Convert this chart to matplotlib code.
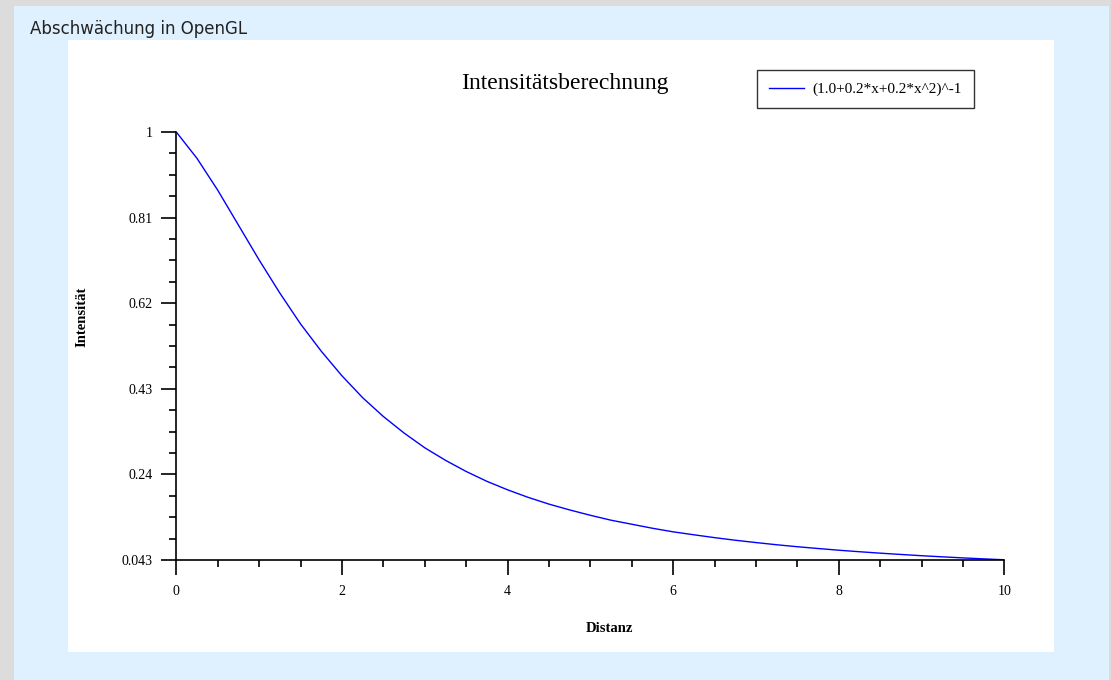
import matplotlib
matplotlib.use("Agg")
import matplotlib.pyplot as plt
from matplotlib.patches import Rectangle
from matplotlib.ticker import FixedLocator

# Data
distanz = [0, 0.25, 0.5, 0.75, 1, 1.25, 1.5, 1.75, 2, 2.25, 2.5, 2.75, 3, 3.25, 3.5, 3.75,
           4, 4.25, 4.5, 4.75, 5, 5.25, 5.5, 5.75, 6, 6.25, 6.5, 6.75, 7, 7.25, 7.5, 7.75,
           8, 8.25, 8.5, 8.75, 9, 9.25, 9.5, 9.75, 10]
intensitaet = [1.000, 0.941, 0.870, 0.792, 0.714, 0.640, 0.571, 0.510, 0.455, 0.406, 0.364,
               0.327, 0.294, 0.266, 0.241, 0.219, 0.200, 0.183, 0.168, 0.155, 0.143, 0.132,
               0.123, 0.114, 0.106, 0.0994, 0.0930, 0.0872, 0.0820, 0.0771, 0.0727, 0.0687,
               0.0649, 0.0615, 0.0583, 0.0554, 0.0526, 0.0501, 0.0477, 0.0455, 0.0435]
y_ticks = [0.043, 0.2344, 0.4258, 0.6172, 0.8086, 1.0]
y_tick_labels = ["0.043", "0.24", "0.43", "0.62", "0.81", "1"]
x_ticks = [0, 2, 4, 6, 8, 10]
x_tick_labels = ["0", "2", "4", "6", "8", "10"]
series_label = "(1.0+0.2*x+0.2*x^2)^-1"

W, H = 1111, 680
fig = plt.figure(figsize=(W / 100, H / 100), dpi=100, facecolor="#dcdcdc")

# light blue panel and white plot area
fig.patches.append(Rectangle((14 / W, 0), (1109 - 14) / W, (680 - 6) / H,
                             transform=fig.transFigure, facecolor="#dff0fe",
                             edgecolor="none", zorder=-2))
fig.patches.append(Rectangle((68 / W, (H - 652) / H), (1054 - 68) / W, (652 - 40) / H,
                             transform=fig.transFigure, facecolor="white",
                             edgecolor="none", zorder=-1))

fig.text(30 / W, 1 - 29 / H, "Abschwächung in OpenGL", family="DejaVu Sans",
         fontsize=12, color="#222222", va="center", ha="left")

left, right, top, bottom = 176.3, 1004.3, 132, 560
ax = fig.add_axes([left / W, (H - bottom) / H, (right - left) / W, (bottom - top) / H])
ax.patch.set_alpha(0)

ax.plot(distanz, intensitaet, color="#0000ff", lw=1.0, label=series_label)

ax.set_xlim(0, 10)
ax.set_ylim(0.043, 1.0)

for s in ["top", "right"]:
    ax.spines[s].set_visible(False)
for s in ["left", "bottom"]:
    ax.spines[s].set_linewidth(1.2)
    ax.spines[s].set_color("black")

ax.set_xticks(x_ticks)
ax.set_xticklabels(x_tick_labels)
ax.set_yticks(y_ticks)
ax.set_yticklabels(y_tick_labels)
ax.xaxis.set_minor_locator(FixedLocator([v * 0.5 for v in range(21)]))
step = (1.0 - 0.043) / 20
ax.yaxis.set_minor_locator(FixedLocator([0.043 + step * i for i in range(21)]))

ax.tick_params(axis="both", which="major", direction="out", length=11, width=1.2,
               labelsize=10, color="black")
ax.tick_params(axis="both", which="minor", direction="out", length=5, width=1.2,
               color="black")
ax.tick_params(axis="x", which="major", pad=7)
ax.tick_params(axis="y", which="major", pad=6)
for lab in ax.get_xticklabels() + ax.get_yticklabels():
    lab.set_family("Liberation Serif")

fig.text(565 / W, 1 - 83 / H, "Intensitätsberechnung", family="Liberation Serif",
         fontsize=17, ha="center", va="center")
fig.text(609 / W, 1 - 628 / H, "Distanz", family="Liberation Serif",
         fontsize=10.5, fontweight="bold", ha="center", va="center")
fig.text(82 / W, 1 - 317 / H, "Intensität", family="Liberation Serif",
         fontsize=10.5, fontweight="bold", ha="center", va="center", rotation=90)

leg = ax.legend(loc="upper left", bbox_to_anchor=(757 / W, 1 - 70 / H),
                bbox_transform=fig.transFigure, frameon=True, fancybox=False,
                prop={"family": "Liberation Serif", "size": 11},
                handlelength=2.3, handletextpad=0.5, borderpad=0.8,
                borderaxespad=0)
leg.get_frame().set_edgecolor("black")
leg.get_frame().set_linewidth(1.0)

fig.savefig("out.png", dpi=100, facecolor=fig.get_facecolor())
